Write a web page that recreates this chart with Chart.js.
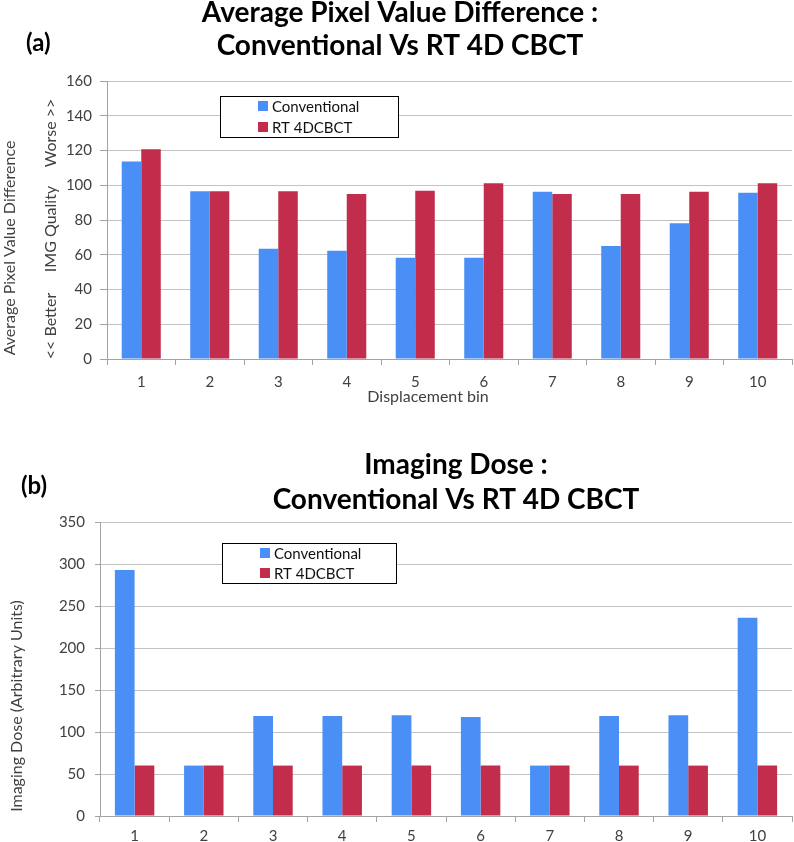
<!DOCTYPE html>
<html>
<head>
<meta charset="utf-8">
<script src="https://cdn.jsdelivr.net/npm/chart.js@4.4.0/dist/chart.umd.min.js"></script>
<style>
  html, body { margin: 0; padding: 0; background: #fff; }
  canvas { position: absolute; left: 0; }
  #pixelChart { top: 0; }
  #doseChart { top: 420px; }
</style>
</head>
<body>
<canvas id="pixelChart" width="794" height="420"></canvas>
<canvas id="doseChart" width="794" height="422"></canvas>
<script>
const BINS = ['1', '2', '3', '4', '5', '6', '7', '8', '9', '10'];
const SERIES_NAMES = ['Conventional', 'RT 4DCBCT'];

// (a) average pixel value difference
const PIXEL_CONVENTIONAL = [113.6, 96.5, 63.5, 62.3, 58.3, 58.3, 96.3, 65, 78.1, 95.7];
const PIXEL_RT = [120.7, 96.5, 96.5, 95, 96.8, 101.1, 95, 95, 96.3, 101.1];

// (b) imaging dose
const DOSE_CONVENTIONAL = [293, 60, 119, 119, 120, 118, 60, 119, 120, 236];
const DOSE_RT = [60, 60, 60, 60, 60, 60, 60, 60, 60, 60];

const BLUE = '#4a8ff5';
const RED = '#c12d4b';
const GRID = '#c3c3c3';
const AXIS = '#a3a3a3';
const TEXT = '#404040';
const FONT = 'Lato';

Chart.defaults.font.family = FONT;
Chart.defaults.font.size = 15;
Chart.defaults.color = TEXT;

// titles, panel tag, axis titles and the boxed legend
function annotations(cfg) {
  return {
    id: 'annotations',
    afterDraw(chart) {
      const ctx = chart.ctx;
      ctx.save();
      ctx.fillStyle = '#000';
      ctx.textBaseline = 'alphabetic';
      ctx.textAlign = 'center';
      ctx.font = `bold 28px ${FONT}`;
      cfg.title.forEach((line, i) => ctx.fillText(line, cfg.titleX, cfg.titleY[i]));
      ctx.textAlign = 'left';
      ctx.font = `bold 24px ${FONT}`;
      ctx.fillText(cfg.tag, cfg.tagX, cfg.tagY);

      ctx.font = `16px ${FONT}`;
      ctx.fillStyle = TEXT;
      ctx.textAlign = 'center';
      ctx.textBaseline = 'middle';
      cfg.yTitles.forEach((t) => {
        ctx.save();
        ctx.translate(t.x, t.y);
        ctx.rotate(-Math.PI / 2);
        ctx.fillText(t.text, 0, 0);
        ctx.restore();
      });
      if (cfg.xTitle) ctx.fillText(cfg.xTitle.text, cfg.xTitle.x, cfg.xTitle.y);

      const b = cfg.legend;
      ctx.fillStyle = '#fff';
      ctx.fillRect(b.x, b.y, b.w, b.h);
      ctx.strokeStyle = '#000';
      ctx.lineWidth = 1;
      ctx.strokeRect(b.x + 0.5, b.y + 0.5, b.w, b.h);
      ctx.font = `15px ${FONT}`;
      ctx.textAlign = 'left';
      chart.data.datasets.forEach((ds, i) => {
        const cy = b.y + b.rows[i];
        ctx.fillStyle = ds.backgroundColor;
        ctx.fillRect(b.x + 38, cy - 5, 10, 10);
        ctx.fillStyle = '#111';
        ctx.fillText(ds.label, b.x + 52, cy + 1);
      });
      ctx.restore();
    },
  };
}

function barChart(canvasId, a, b, yMax, yStep, layout, extra) {
  return new Chart(document.getElementById(canvasId), {
    type: 'bar',
    data: {
      labels: BINS,
      datasets: [
        { label: SERIES_NAMES[0], data: a, backgroundColor: BLUE },
        { label: SERIES_NAMES[1], data: b, backgroundColor: RED },
      ],
    },
    options: {
      responsive: false,
      animation: false,
      events: [],
      layout: { padding: { top: layout.top, right: 2, left: 0, bottom: 0 } },
      datasets: { bar: { categoryPercentage: 0.57, barPercentage: 1, borderWidth: 0 } },
      plugins: { legend: { display: false }, title: { display: false }, tooltip: { enabled: false } },
      scales: {
        x: {
          grid: { offset: true, drawOnChartArea: false, tickLength: 6, color: AXIS },
          border: { color: AXIS, width: 1 },
          ticks: { padding: layout.xPad, color: TEXT },
          afterFit(scale) { scale.height = layout.xHeight; },
        },
        y: {
          min: 0,
          max: yMax,
          ticks: { stepSize: yStep, padding: layout.yPad, color: TEXT },
          grid: { color: GRID, tickLength: layout.yTick, tickColor: AXIS },
          border: { color: AXIS, width: 1 },
          afterFit(scale) { scale.width = layout.left; },
        },
      },
    },
    plugins: [annotations(extra)],
  });
}

barChart('pixelChart', PIXEL_CONVENTIONAL, PIXEL_RT, 160, 20,
  { top: 81, left: 107, xHeight: 61, xPad: 8, yPad: 8, yTick: 7 },
  {
    title: ['Average Pixel Value Difference :', 'Conventional Vs RT 4D CBCT'],
    titleX: 400, titleY: [22, 55],
    tag: '(a)', tagX: 26, tagY: 51,
    yTitles: [
      { text: 'Average Pixel Value Difference', x: 10, y: 248 },
      { text: '<< Better', x: 51, y: 326 },
      { text: 'IMG Quality', x: 51, y: 229 },
      { text: 'Worse >>', x: 51, y: 133 },
    ],
    xTitle: { text: 'Displacement bin', x: 428, y: 397 },
    legend: { x: 220, y: 96, w: 178, h: 41, rows: [10, 31] },
  });

barChart('doseChart', DOSE_CONVENTIONAL, DOSE_RT, 350, 50,
  { top: 102, left: 100, xHeight: 26, xPad: 5, yPad: 10, yTick: 5 },
  {
    title: ['Imaging Dose :', 'Conventional Vs RT 4D CBCT'],
    titleX: 456, titleY: [54, 89],
    tag: '(b)', tagX: 21, tagY: 74,
    yTitles: [
      { text: 'Imaging Dose (Arbitrary Units)', x: 17, y: 286 },
    ],
    xTitle: null,
    legend: { x: 222, y: 123, w: 174, h: 40, rows: [10, 30] },
  });
</script>
</body>
</html>
